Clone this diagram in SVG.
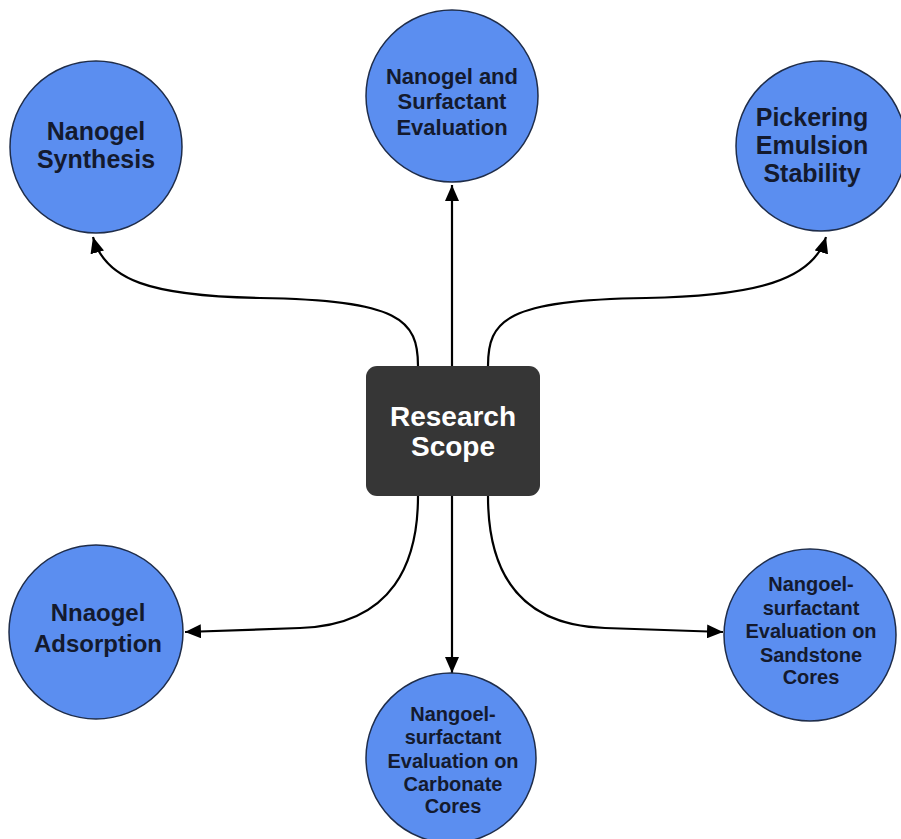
<svg xmlns="http://www.w3.org/2000/svg" width="901" height="839" viewBox="0 0 901 839">
<defs>
<style>
.c{fill:#5b8ef0;stroke:#1f2d4a;stroke-width:1.5}
.t{font-family:"Liberation Sans",Arial,sans-serif;font-weight:bold;fill:#141a2e;text-anchor:middle}
.w{font-family:"Liberation Sans",Arial,sans-serif;font-weight:bold;fill:#ffffff;text-anchor:middle;font-size:28px}
</style>
<marker id="a" viewBox="0 0 16 14" refX="16" refY="7" markerWidth="16" markerHeight="14" markerUnits="userSpaceOnUse" orient="auto">
<path d="M0,0 L16,7 L0,14 z" fill="#000"/>
</marker>
</defs>
<rect width="901" height="839" fill="#fff"/>
<g id="connectors" fill="none" stroke="#000" stroke-width="2.2">
<path d="M418,366 C418,320 400,300 260,298 C150,296 105,280 93,237" marker-end="url(#a)"/>
<path d="M452,366 L452,185" marker-end="url(#a)"/>
<path d="M488,366 C488,320 506,300 646,298 C756,296 813,280 826,237" marker-end="url(#a)"/>
<path d="M418,496 C418,560 395,625 300,628 C250,630 210,631 185,632" marker-end="url(#a)"/>
<path d="M452,496 L452,673" marker-end="url(#a)"/>
<path d="M488,496 C488,560 510,625 605,628 C655,630 695,631 723,632" marker-end="url(#a)"/>
</g>
<g id="center">
<rect x="366" y="366" width="174" height="130" rx="11" fill="#363636"/>
<text class="w"><tspan x="453" y="426">Research</tspan><tspan x="453" y="456">Scope</tspan></text>
</g>
<g id="n1">
<circle class="c" cx="96" cy="147" r="86"/>
<text class="t" font-size="25"><tspan x="96" y="140">Nanogel</tspan><tspan x="96" y="168">Synthesis</tspan></text>
</g>
<g id="n2">
<circle class="c" cx="452" cy="96" r="86"/>
<text class="t" font-size="22"><tspan x="452" y="84">Nanogel and</tspan><tspan x="452" y="109">Surfactant</tspan><tspan x="452" y="135">Evaluation</tspan></text>
</g>
<g id="n3">
<circle class="c" cx="821" cy="146" r="85"/>
<text class="t" font-size="25"><tspan x="812" y="126">Pickering</tspan><tspan x="812" y="154">Emulsion</tspan><tspan x="812" y="182">Stability</tspan></text>
</g>
<g id="n4">
<circle class="c" cx="96" cy="632" r="87"/>
<text class="t" font-size="24"><tspan x="98" y="621">Nnaogel</tspan><tspan x="98" y="652">Adsorption</tspan></text>
</g>
<g id="n5">
<circle class="c" cx="451" cy="758" r="85"/>
<text class="t" font-size="20"><tspan x="453" y="721">Nangoel-</tspan><tspan x="453" y="744">surfactant</tspan><tspan x="453" y="768">Evaluation on</tspan><tspan x="453" y="791">Carbonate</tspan><tspan x="453" y="813">Cores</tspan></text>
</g>
<g id="n6">
<circle class="c" cx="810" cy="635" r="86"/>
<text class="t" font-size="20"><tspan x="811" y="591">Nangoel-</tspan><tspan x="811" y="615">surfactant</tspan><tspan x="811" y="638">Evaluation on</tspan><tspan x="811" y="662">Sandstone</tspan><tspan x="811" y="684">Cores</tspan></text>
</g>
</svg>
